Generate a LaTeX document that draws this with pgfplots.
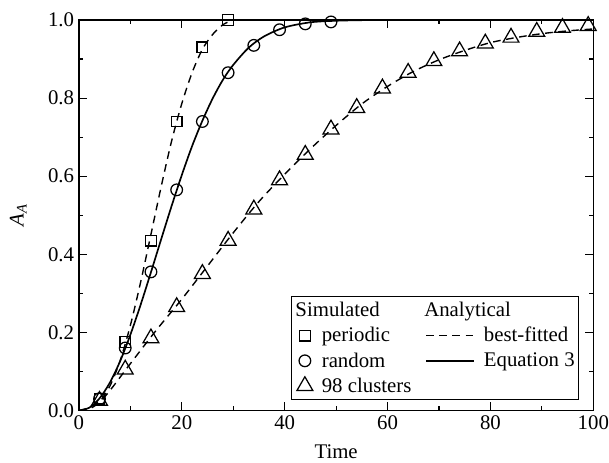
\documentclass[border=0pt]{standalone}
\usepackage{fontspec}
\setmainfont{Liberation Serif}
\usepackage{pgfplots}
\pgfplotsset{compat=1.18}
\pgfplotsset{longline/.style={legend image code/.code={\draw[##1] (0bp,0bp) -- (34.6bp,0bp);}}}

% simulated points
\pgfplotstableread{
t A
4 0.03
9 0.175
14 0.435
19 0.74
24 0.93
29 1.0
}\periodic
\pgfplotstableread{
t A
4 0.03
9 0.16
14 0.355
19 0.565
24 0.74
29 0.865
34 0.935
39 0.975
44 0.99
49 0.995
}\random
\pgfplotstableread{
t A
4 0.025
9 0.105
14 0.185
19 0.265
24 0.35
29 0.435
34 0.515
39 0.59
44 0.655
49 0.72
54 0.775
59 0.825
64 0.865
69 0.895
74 0.92
79 0.94
84 0.955
89 0.97
94 0.98
99 0.985
}\clusters

\begin{document}
\begin{tikzpicture}[font=\fontsize{15bp}{18bp}\selectfont]
\begin{axis}[
  scale only axis, width=370.8bp, height=281.5bp,
  xmin=0, xmax=100, ymin=0, ymax=1,
  xtick={0,20,...,100}, ytick={0,0.2,...,1.0},
  minor x tick num=1, minor y tick num=1,
  tick align=inside,
  major tick length=5.8bp, minor tick length=3bp,
  axis line style={line width=0.9bp},
  every tick/.style={black, line width=0.8bp},
  /pgf/number format/assume math mode=true,
  yticklabel style={/pgf/number format/.cd, fixed, fixed zerofill, precision=1},
  xticklabel style={inner xsep=0pt},
  tick label style={font=\fontsize{15bp}{18bp}\selectfont},
  xlabel={Time}, ylabel={\itshape A\textsubscript{A}},
  xlabel style={at={(axis description cs:0.5,-0.105)}, anchor=center, inner sep=1bp},
  ylabel style={at={(axis description cs:-0.118,0.5)}, anchor=center},
  legend columns=2,
  legend cell align=left,
  legend style={at={(rel axis cs:0.973,0.026)}, anchor=south east,
    draw=black, line width=0.9bp, inner xsep=1bp, inner ysep=2bp,
    font=\fontsize{15bp}{18bp}\selectfont, row sep=2.2bp,
    /tikz/every odd column/.append style={column sep=4.5bp},
    /tikz/every even column/.append style={column sep=8bp}},
]
\addplot[forget plot, black, line width=1bp, dash pattern=on 5.5bp off 4bp, smooth] coordinates {
(0,0)(2,0.004)(4,0.022)(6,0.062)(8,0.127)(10,0.218)(12,0.329)(14,0.451)(16,0.574)
(18,0.689)(20,0.786)(22,0.865)(24,0.925)(26,0.963)(28,0.988)(30,1.0)};
\addplot[forget plot, black, line width=1.2bp, smooth] coordinates {
(0,0)(2,0.007)(4,0.031)(6,0.071)(8,0.126)(10,0.194)(12,0.271)(14,0.354)(16,0.439)
(18,0.523)(20,0.603)(22,0.677)(24,0.742)(26,0.799)(28,0.847)(30,0.885)(33,0.929)
(36,0.958)(40,0.981)(45,0.994)(50,0.998)(55,0.9995)(60,1.0)};
\addplot[forget plot, black, line width=1bp, dash pattern=on 5.5bp off 4bp, smooth] coordinates {
(0,0)(2,0.008)(5,0.035)(10,0.12)(15,0.205)(20,0.285)(25,0.37)(30,0.455)(35,0.535)
(40,0.605)(45,0.67)(50,0.73)(55,0.785)(60,0.83)(65,0.868)(70,0.898)(75,0.922)
(80,0.942)(85,0.955)(90,0.965)(95,0.972)(100,0.977)};
\addplot[forget plot, only marks, mark=square, mark size=3.85bp, line width=0.9bp] table[x=t,y=A] {\periodic};
\addplot[forget plot, only marks, mark=o, mark size=4.2bp, line width=0.9bp] table[x=t,y=A] {\random};
\addplot[forget plot, only marks, mark=triangle, mark size=6.6bp, line width=0.9bp] table[x=t,y=A] {\clusters};

\addlegendimage{empty legend}\addlegendentry{\kern-19bp Simulated}
\addlegendimage{empty legend}\addlegendentry{\kern-43bp Analytical}
\addlegendimage{only marks, mark=square, mark size=3.85bp, line width=0.9bp}\addlegendentry{periodic}
\addlegendimage{black, line width=1bp, dash pattern=on 5.5bp off 4bp, longline}\addlegendentry{best-fitted}
\addlegendimage{only marks, mark=o, mark size=4.2bp, line width=0.9bp}\addlegendentry{random}
\addlegendimage{black, line width=1.2bp, longline}\addlegendentry{Equation 3}
\addlegendimage{only marks, mark=triangle, mark size=6.6bp, line width=0.9bp}\addlegendentry{98 clusters}
\addlegendimage{empty legend}\addlegendentry{}
\end{axis}
\path ([xshift=-56.9bp,yshift=-37.4bp]current axis.south west)
  rectangle ([xshift=11.3bp,yshift=14.4bp]current axis.north east);
\end{tikzpicture}
\end{document}
